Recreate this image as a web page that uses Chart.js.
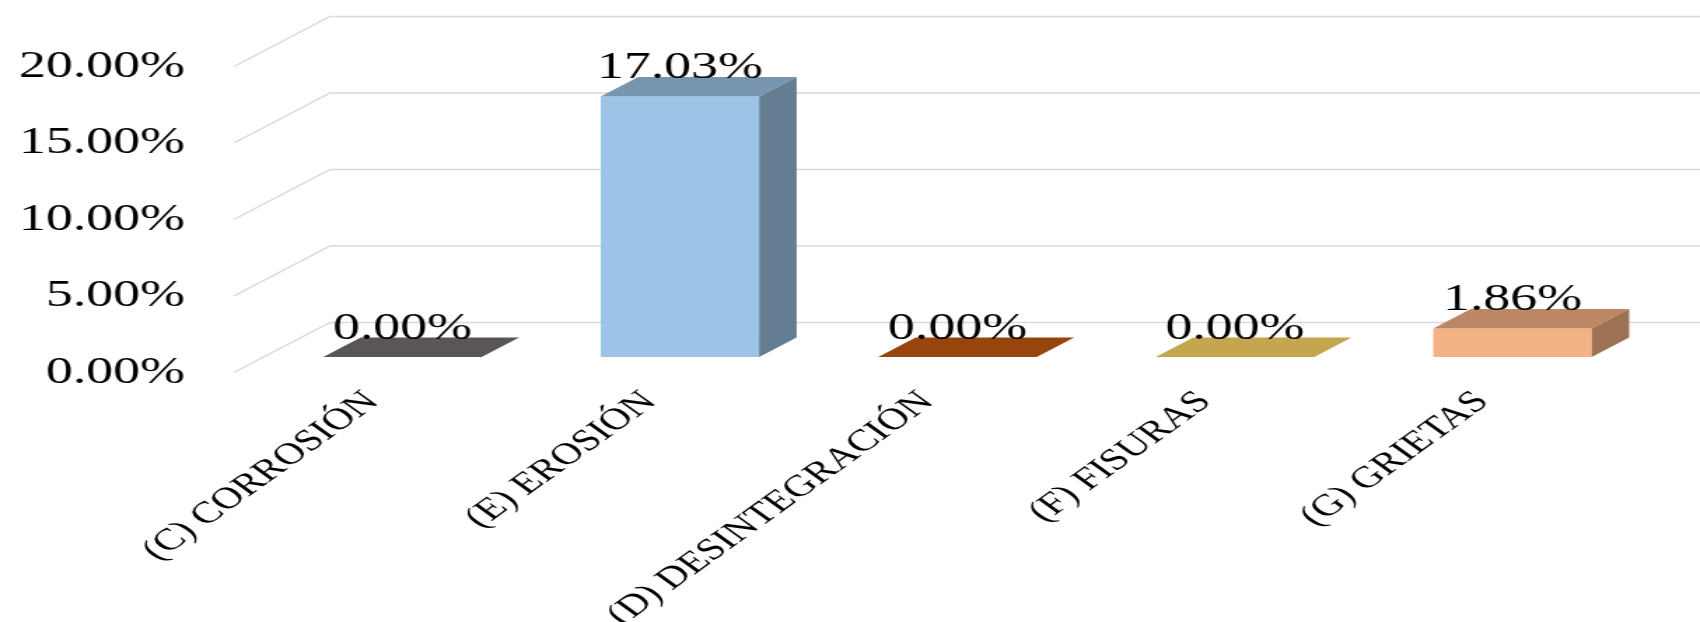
<!DOCTYPE html>
<html>
<head>
<meta charset="utf-8">
<title>Deterioros</title>
<script src="https://cdn.jsdelivr.net/npm/chart.js@4.4.1/dist/chart.umd.min.js"></script>
<style>
  html, body { margin: 0; padding: 0; background: #fff; overflow: hidden; }
  /* the chart is drawn narrow and widened, like the exported sheet image */
  #chart { display: block; transform: scaleX(1.4003); transform-origin: 0 0; }
</style>
</head>
<body>
<canvas id="chart" width="1214" height="622"></canvas>
<script>
const categories = ['(C) CORROSIÓN', '(E) EROSIÓN', '(D) DESINTEGRACIÓN', '(F) FISURAS', '(G) GRIETAS'];
const percentages = [0.00, 17.03, 0.00, 0.00, 1.86];
const yTicks = [0, 5, 10, 15, 20];
const barColors = ['#767171', '#9dc3e6', '#c55a11', '#ffd966', '#f4b183'];

const serif = '"Liberation Serif", "Times New Roman", serif';

// 3D box: full depth of the floor, the bars sit in the middle of it
const depth = { dx: 68.6, dy: -50 };
const frontPart = 0.31;
const barPart = 0.39;

function shade(hex, f) {
    const n = parseInt(hex.slice(1), 16);
    const r = Math.round(((n >> 16) & 255) * f);
    const g = Math.round(((n >> 8) & 255) * f);
    const b = Math.round((n & 255) * f);
    return `rgb(${r},${g},${b})`;
}

function poly(ctx, pts) {
    ctx.beginPath();
    ctx.moveTo(pts[0][0], pts[0][1]);
    for (let i = 1; i < pts.length; i++) ctx.lineTo(pts[i][0], pts[i][1]);
    ctx.closePath();
    ctx.fill();
}

const box3d = {
    id: 'box3d',
    beforeDatasetsDraw(chart) {
        const { ctx, chartArea, scales: { y } } = chart;
        const fx = -frontPart * depth.dx, fy = -frontPart * depth.dy;
        const bx = (1 - frontPart) * depth.dx, by = (1 - frontPart) * depth.dy;
        ctx.save();
        ctx.strokeStyle = '#d9d9d9';
        ctx.lineWidth = 1.5;
        yTicks.forEach(v => {
            const py = y.getPixelForValue(v);
            ctx.beginPath();
            ctx.moveTo(chartArea.left + fx, py + fy);
            ctx.lineTo(chartArea.left + bx, py + by);
            ctx.lineTo(chartArea.right + bx, py + by);
            ctx.stroke();
        });
        ctx.restore();
    },
    afterDatasetsDraw(chart) {
        const ctx = chart.ctx;
        const dx = barPart * depth.dx, dy = barPart * depth.dy;
        ctx.save();
        chart.getDatasetMeta(0).data.forEach((bar, i) => {
            const { x, y, base, width } = bar.getProps(['x', 'y', 'base', 'width'], true);
            const l = x - width / 2, r = x + width / 2;
            // top face
            ctx.fillStyle = shade(barColors[i], 0.765);
            poly(ctx, [[l, y], [r, y], [r + dx, y + dy], [l + dx, y + dy]]);
            // right side
            if (base - y > 0.5) {
                ctx.fillStyle = shade(barColors[i], 0.64);
                poly(ctx, [[r, y], [r + dx, y + dy], [r + dx, base + dy], [r, base]]);
            }
        });
        ctx.restore();
    },
    afterDraw(chart) {
        const ctx = chart.ctx;
        ctx.save();
        ctx.font = '38.5px ' + serif;
        ctx.fillStyle = '#000';
        ctx.textAlign = 'center';
        ctx.textBaseline = 'alphabetic';
        chart.getDatasetMeta(0).data.forEach((bar, i) => {
            ctx.fillText(percentages[i].toFixed(2) + '%', bar.x, bar.y + barPart * depth.dy + 1);
        });
        ctx.restore();
    }
};

const chart = new Chart(document.getElementById('chart'), {
    type: 'bar',
    data: {
        labels: categories,
        datasets: [{
            data: percentages,
            backgroundColor: barColors,
            borderWidth: 0,
            categoryPercentage: 1.0,
            barPercentage: 0.571
        }]
    },
    options: {
        responsive: false,
        animation: false,
        layout: { padding: { left: 0, right: 34.8, top: 51, bottom: 0 } },
        plugins: {
            legend: { display: false },
            tooltip: { enabled: false }
        },
        scales: {
            x: {
                grid: { display: false, drawTicks: false },
                border: { display: false },
                ticks: {
                    autoSkip: false,
                    minRotation: 45,
                    maxRotation: 45,
                    padding: 27,
                    labelOffset: -21.5,
                    color: '#000',
                    font: { family: serif, size: 30.5 }
                },
                afterFit(scale) {
                    scale.height = 265;
                    scale.paddingLeft = 0;
                    scale.paddingRight = 0;
                }
            },
            y: {
                min: 0,
                max: 20,
                grid: { display: false, drawTicks: false },
                border: { display: false },
                afterBuildTicks(scale) {
                    scale.ticks = yTicks.map(v => ({ value: v }));
                },
                ticks: {
                    padding: 56.2,
                    labelOffset: 15.5,
                    color: '#000',
                    font: { family: serif, size: 38.5 },
                    callback: v => v.toFixed(2) + '%'
                },
                afterFit(scale) {
                    scale.width = 188.3;
                    scale.paddingTop = 0;
                    scale.paddingBottom = 0;
                }
            }
        }
    },
    plugins: [box3d]
});
</script>
</body>
</html>
